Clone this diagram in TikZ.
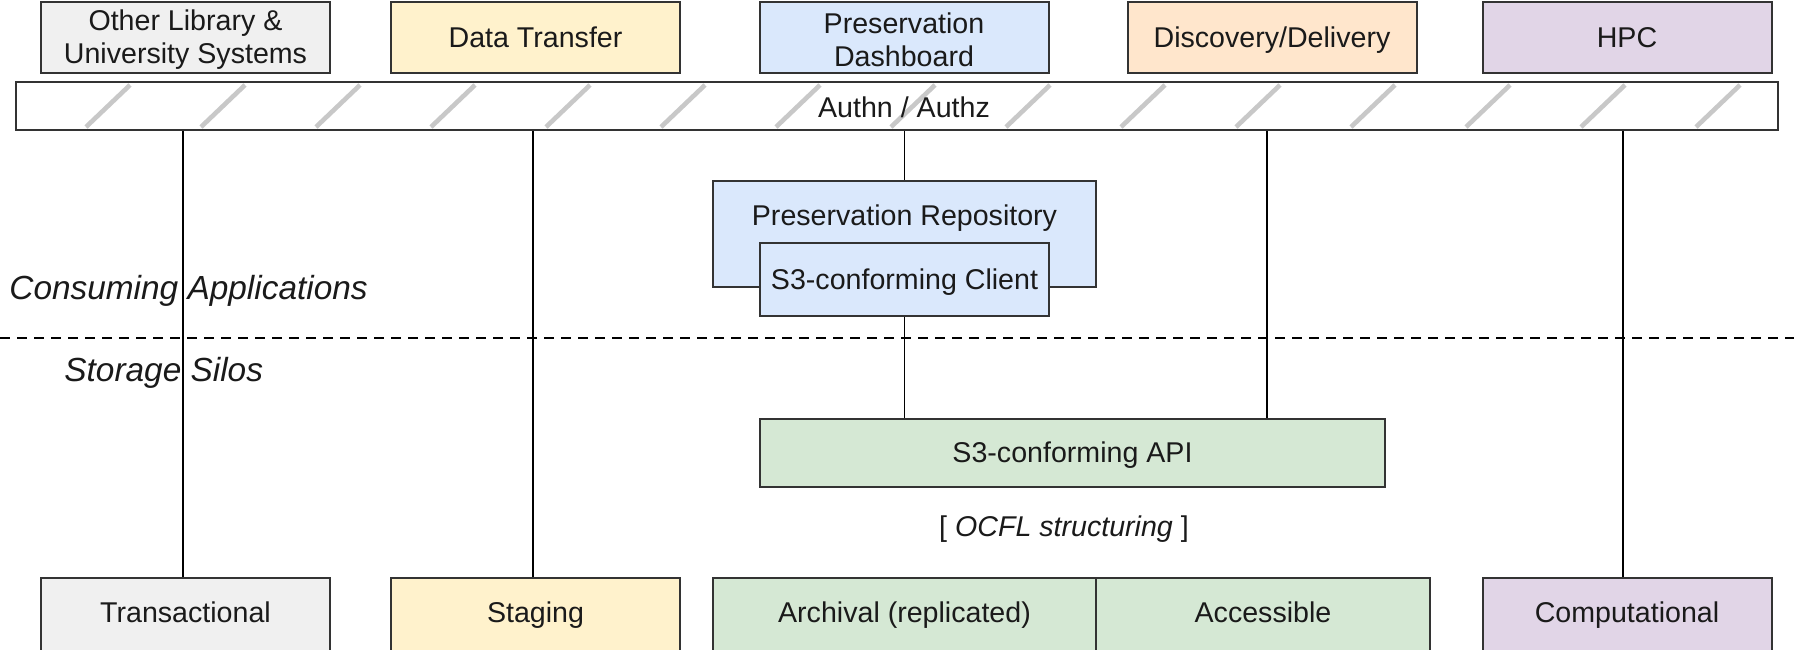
\documentclass[tikz,border=0pt]{standalone}
\usepackage{fontspec}
\setmainfont{Liberation Sans}
\definecolor{cgray}{HTML}{F0F0F0}
\definecolor{cyellow}{HTML}{FFF2CC}
\definecolor{cblue}{HTML}{DAE8FC}
\definecolor{corange}{HTML}{FFE6CC}
\definecolor{cpurple}{HTML}{E1D5E7}
\definecolor{cgreen}{HTML}{D5E8D4}
\definecolor{cborder}{HTML}{333333}
\definecolor{chatch}{HTML}{C8C8C8}
\definecolor{ctext}{HTML}{1A1A1A}
\begin{document}
\begin{tikzpicture}[x=0.5pt,y=-0.5pt,
  box/.style={draw=cborder, line width=1pt, minimum width=144.5pt, minimum height=35.5pt,
    inner sep=0pt, align=center, text=ctext, font=\fontsize{14.3}{16.4}\selectfont},
  oneline/.style={text height=0.98em, text depth=0pt},
  txt/.style={inner sep=0pt, text=ctext, font=\fontsize{14.3}{16.4}\selectfont, oneline},
  twoline/.style={inner sep=0pt, text=ctext, font=\fontsize{14.3}{16.4}\selectfont, align=center},
  lbl/.style={inner sep=0pt, text=ctext, font=\fontsize{16.7}{19}\selectfont\itshape, anchor=west, oneline},
  conn/.style={draw=black, line width=0.8pt},
  hatch/.style={draw=chatch, line width=2.3pt}]
\useasboundingbox (0,0) rectangle (1794,649);
\fill[white] (0,0) rectangle (1794,649);

% top boxes
\node[box, fill=cgray]   (other) at (185.5,37.5) {};
\node[twoline] (otherT) at (185.5,40) {Other Library \&\\University Systems};
\node[box, fill=cyellow, oneline] (data)  at (535.5,37.5) {Data Transfer};
\node[box, fill=cblue]   (dash)  at (904,37.5)   {};
\node[twoline] (dashT) at (904,40) {Preservation\\Dashboard};
\node[box, fill=corange, oneline] (disc)  at (1272,37.5)  {Discovery/Delivery};
\node[box, fill=cpurple, oneline] (hpc)   at (1627,37.5)  {HPC};

% authn bar
\node[box, fill=white, minimum width=881pt, minimum height=24pt] (bar) at (897,106) {};
\foreach \b in {86,201,316,431,546,661,776,891,1006,1121,1236,1351,1466,1581,1696}{
  \draw[hatch] (\b,127) -- ({\b+44},85);
}
\node[txt] (authn) at (904,107.5) {Authn / Authz};

% preservation repository
\node[box, fill=cblue, minimum width=191.5pt, minimum height=53pt] (repo) at (904.5,234) {};
\node[txt] (repotext) at (904.5,216) {Preservation Repository};
\node[box, fill=cblue, minimum height=36.5pt, oneline] (client) at (904.5,279.5) {S3-conforming Client};

% api
\node[box, fill=cgreen, minimum width=312.5pt, minimum height=34pt, oneline] (api) at (1072.5,453) {S3-conforming API};
\node[txt] (ocfl) at (1064,527) {[ \textit{OCFL structuring} ]};

% bottom boxes
\node[box, fill=cgray,   minimum height=61pt] (trans)  at (185.5,639) {};
\node[box, fill=cyellow, minimum height=61pt] (stag)   at (535.5,639) {};
\node[box, fill=cgreen,  minimum width=191.5pt, minimum height=61pt] (arch) at (904.5,639) {};
\node[box, fill=cgreen,  minimum width=167pt, minimum height=61pt] (acc) at (1263,639) {};
\node[box, fill=cpurple, minimum height=61pt] (comp)   at (1627,639) {};
\node[txt] (transT) at (trans |- 0,613) {Transactional};
\node[txt] (stagT)  at (stag |- 0,613)  {Staging};
\node[txt] (archT)  at (arch |- 0,613)  {Archival (replicated)};
\node[txt] (accT)   at (acc |- 0,613)   {Accessible};
\node[txt] (compT)  at (comp |- 0,613)  {Computational};

% dashed separator
\coordinate (dl) at (0,338);
\coordinate (dr) at (1794,338);
\draw[black, line width=0.9pt, dash pattern=on 5pt off 3.5pt] (dl) -- (dr);

% layer labels
\node[lbl] (consume) at (9,290) {Consuming Applications};
\node[lbl] (silos) at (64,372) {Storage Silos};

% connectors
\draw[conn] (bar.south -| 183,0) -- (trans.north -| 183,0);
\draw[conn] (bar.south -| 533,0) -- (stag.north -| 533,0);
\draw[conn] (bar.south -| repo.north) -- (repo.north);
\draw[conn] (client.south) -- (client.south |- api.north);
\draw[conn] (bar.south -| 1267,0) -- (api.north -| 1267,0);
\draw[conn] (bar.south -| 1623,0) -- (comp.north -| 1623,0);
\end{tikzpicture}
\end{document}
